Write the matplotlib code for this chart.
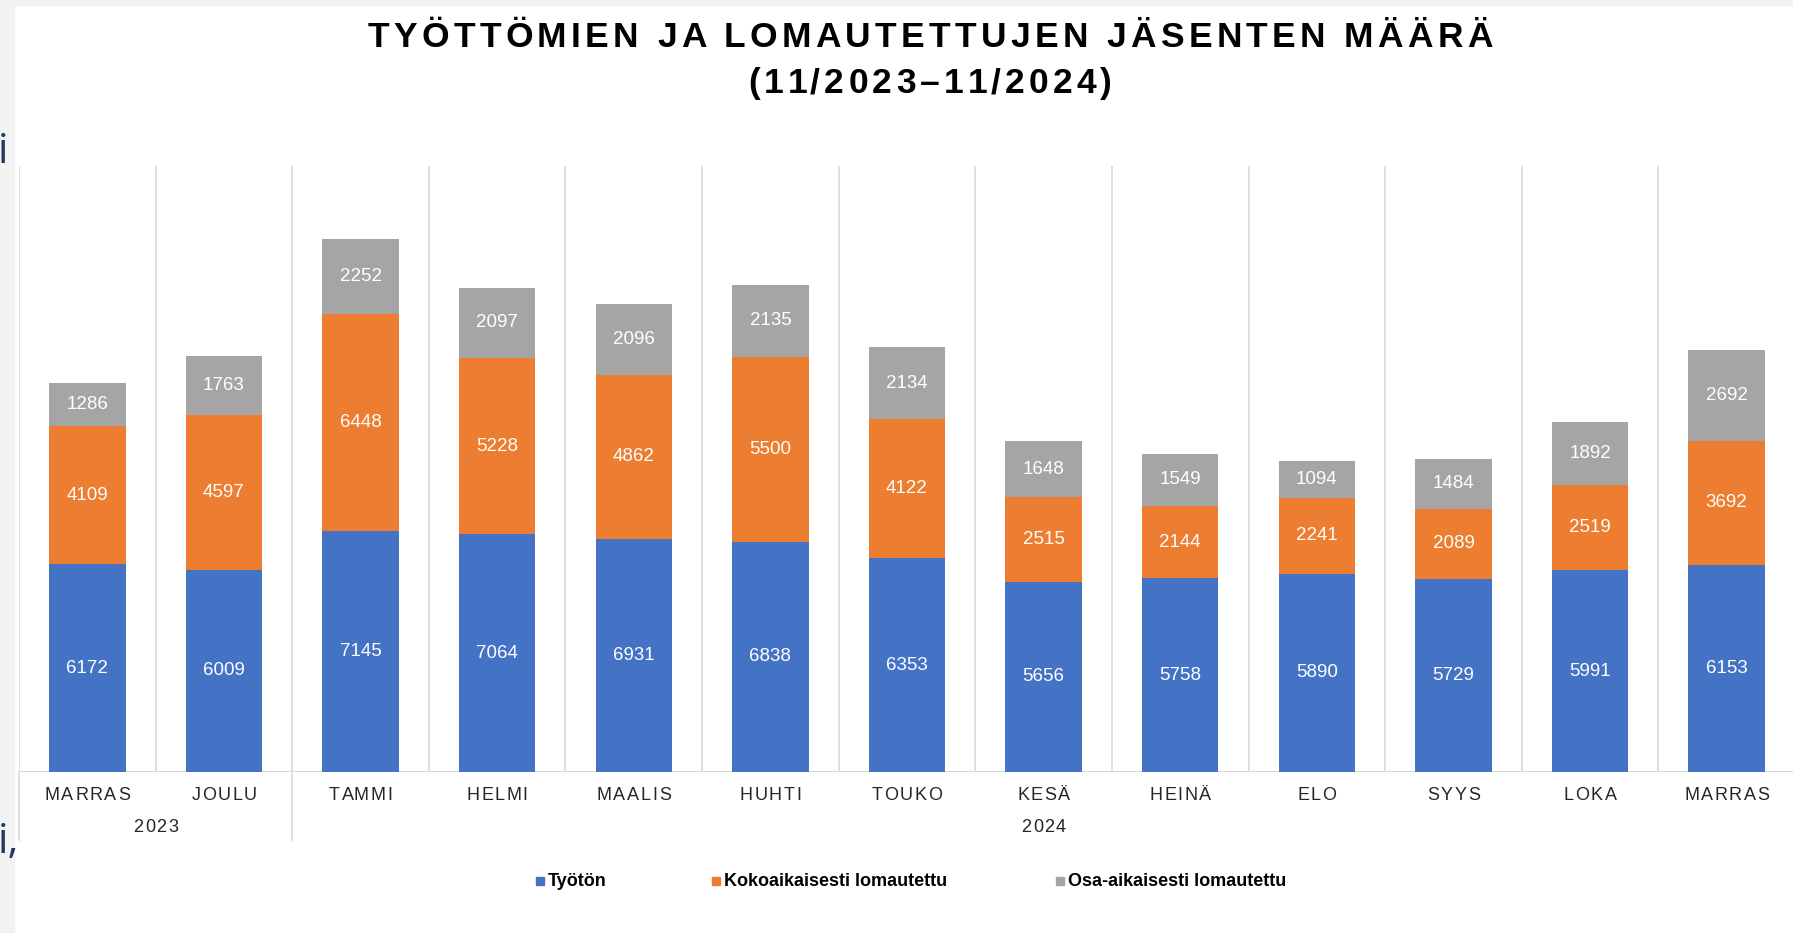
import matplotlib
matplotlib.use("Agg")
import matplotlib.pyplot as plt
from matplotlib.patches import Rectangle
from matplotlib.lines import Line2D
from matplotlib.font_manager import FontProperties
import matplotlib.transforms as mtransforms

months = ["MARRAS", "JOULU", "TAMMI", "HELMI", "MAALIS", "HUHTI", "TOUKO",
          "KESÄ", "HEINÄ", "ELO", "SYYS", "LOKA", "MARRAS"]
years = ["2023", "2024"]
year_span = [(0, 1), (2, 12)]
tyoton = [6172, 6009, 7145, 7064, 6931, 6838, 6353, 5656, 5758, 5890, 5729, 5991, 6153]
kokoaik = [4109, 4597, 6448, 5228, 4862, 5500, 4122, 2515, 2144, 2241, 2089, 2519, 3692]
osa_aik = [1286, 1763, 2252, 2097, 2096, 2135, 2134, 1648, 1549, 1094, 1484, 1892, 2692]
series_names = ["Työtön", "Kokoaikaisesti lomautettu", "Osa-aikaisesti lomautettu"]
title_lines = ["TYÖTTÖMIEN JA LOMAUTETTUJEN JÄSENTEN MÄÄRÄ", "(11/2023–11/2024)"]
colors = ["#4472C4", "#ED7D31", "#A5A5A5"]

W, H = 1793, 933
fig = plt.figure(figsize=(W / 100, H / 100), dpi=100)
fig.patch.set_facecolor("white")
renderer = fig.canvas.get_renderer()


def text_width(s, fp):
    if not s:
        return 0.0
    w, h, d = renderer.get_text_width_height_descent(s, fp, ismath=False)
    return w


def tracked_text(cx_px, cy_px, s, tracking_px, fp, color):
    """Draw string centred at pixel (cx, cy from top) with extra letter spacing."""
    total = text_width(s, fp) + tracking_px * (len(s) - 1)
    x0 = cx_px - total / 2
    for i, ch in enumerate(s):
        if ch == " ":
            continue
        xi = x0 + text_width(s[:i], fp) + tracking_px * i
        fig.text(xi / W, 1 - cy_px / H, ch, ha="left", va="center_baseline", fontproperties=fp,
                 color=color)


# screenshot frame strips
fig.add_artist(Rectangle((0, 0), 14 / W, 1, transform=fig.transFigure, color="#F2F2F2", zorder=0))
fig.add_artist(Rectangle((0, 1 - 5 / H), 1, 5 / H, transform=fig.transFigure, color="#F2F2F2", zorder=0))
fig.text(-0.001, 1 - 152 / H, "i", fontsize=30, color="#1F3864", family="Open Sans", va="center", ha="left")
fig.text(-0.001, 1 - 842 / H, "i,", fontsize=30, color="#1F3864", family="Open Sans", va="center", ha="left")

left, right, top, base = 19, 1795, 166, 772
ax = fig.add_axes([left / W, 1 - base / H, (right - left) / W, (base - top) / H])
ax.set_xlim(-0.5, len(months) - 0.5)
ax.set_ylim(0, 18000)
for s in ax.spines.values():
    s.set_visible(False)
ax.set_xticks([])
ax.set_yticks([])
ax.patch.set_alpha(0)

x = list(range(len(months)))
bw = 0.56
bottoms = [0] * len(months)
for vals, col in zip([tyoton, kokoaik, osa_aik], colors):
    ax.bar(x, vals, bw, bottom=bottoms, color=col, zorder=3)
    for xi, v, b in zip(x, vals, bottoms):
        ax.text(xi, b + v / 2, f"{v}", ha="center", va="center", color="white",
                fontsize=13.5, family="Liberation Sans", zorder=4)
    bottoms = [b + v for b, v in zip(bottoms, vals)]

grid_col = "#D9D9D9"
for i in range(len(months) + 1):
    ax.axvline(i - 0.5, color=grid_col, lw=1.2, zorder=1)
ax.axhline(0, color=grid_col, lw=1.5, zorder=2)

trans = mtransforms.blended_transform_factory(ax.transData, ax.transAxes)
ext = (840 - base) / (base - top)
for xv in [-0.5, 1.5]:
    ax.add_line(Line2D([xv, xv], [0, -ext], transform=trans, color=grid_col, lw=1.2, clip_on=False))

# category labels with letter spacing
fp_cat = FontProperties(family="Liberation Sans", size=13)
xpx = lambda xv: left + (xv + 0.5) / len(months) * (right - left)
for xi, m in zip(x, months):
    tracked_text(xpx(xi), 794, m, 1.6, fp_cat, "#262626")
for yr, (a, b) in zip(years, year_span):
    tracked_text(xpx((a + b) / 2), 826, yr, 1.6, fp_cat, "#262626")

# title with letter spacing
fp_title = FontProperties(family="Liberation Sans", size=25.5, weight="bold")
tracked_text(930, 34, title_lines[0], 4.3, fp_title, "black")
tracked_text(930, 80, title_lines[1], 4.3, fp_title, "black")

leg_x = [540, 716, 1060]
leg_y = 1 - 881 / H
for lx, name, col in zip(leg_x, series_names, colors):
    fig.add_artist(Rectangle((lx / W - 4 / W, leg_y - 4 / H), 8 / W, 8 / H, transform=fig.transFigure,
                             color=col))
    fig.text((lx + 8) / W, leg_y, name, ha="left", va="center", fontsize=13, fontweight="bold",
             family=["Liberation Sans Narrow", "Liberation Sans"], color="black")

fig.savefig("out.png", dpi=100)
